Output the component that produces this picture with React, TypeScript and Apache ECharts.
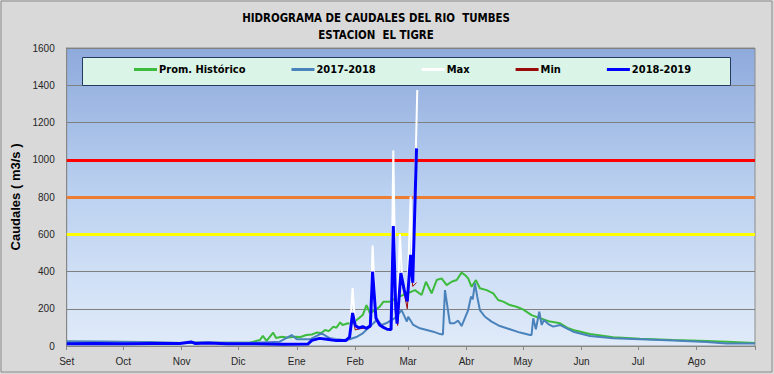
import React, { useEffect, useRef } from "react";
import * as echarts from "echarts";

// X axis: day index from 1 Sep 2018 (0) to 31 Aug 2019 end (365)
const MONTHS = ["Set", "Oct", "Nov", "Dic", "Ene", "Feb", "Mar", "Abr", "May", "Jun", "Jul", "Ago"];
const MONTH_START_DAYS = [0, 30, 61, 91, 122, 153, 181, 212, 242, 273, 303, 334];
const YEAR_END_DAY = 365;

const Y_TICKS = [0, 200, 400, 600, 800, 1000, 1200, 1400, 1600];
const ALERT_LEVELS = [600, 800, 1000];

// [day, m3/s]
const PROM_HISTORICO: [number, number][] = [
  [0, 20], [30, 18], [60, 17], [91, 18], [97, 18], [102.5, 32], [104, 54], [106, 27], [109.5, 72], [111, 43],
  [114, 50], [117.5, 45], [121, 50], [124, 48], [127, 59], [130, 62], [132.5, 72], [135, 70], [137, 86], [139, 80],
  [141.4, 104], [143, 98], [145, 127], [146.3, 113], [149.3, 122], [151, 118], [153.8, 140], [157, 166], [159, 220],
  [160.8, 175], [163, 190], [166, 211], [168, 238], [171.4, 238], [175, 260], [180, 280], [184.7, 300], [188.2, 274],
  [190.5, 345], [193.5, 283], [196.2, 354], [198.8, 363], [201.5, 327], [204.1, 345], [206.8, 354], [209.4, 394],
  [211.2, 381], [212.9, 363], [214.7, 318], [217, 354], [219.1, 310], [222.7, 300], [226.2, 283], [228.8, 247],
  [231.5, 238], [235, 220], [238.5, 211], [242, 197], [246.5, 166], [251, 149], [256.3, 131], [261.6, 122],
  [266, 95], [268.6, 86], [277.5, 64], [289.8, 47], [304, 39], [321.6, 32], [339.3, 27], [349.9, 23], [365, 16],
];

const SERIE_2017_2018: [number, number][] = [
  [0, 25], [20, 24], [40, 22], [60, 20], [80, 18], [100, 17], [113, 23], [119.3, 59], [122, 36], [129, 36],
  [135.2, 68], [139.6, 41], [146.7, 32], [150, 36], [154, 50], [157, 68], [160.8, 104], [164.4, 140], [167, 113],
  [170, 125], [174, 150], [177.6, 193], [180.4, 131], [181.1, 157], [183.8, 113], [187.3, 95], [190.9, 86],
  [194.4, 77], [198, 64], [199.5, 62], [200.6, 300], [203.2, 122], [205.5, 122], [207.6, 136], [209.4, 107],
  [212.9, 193], [214.4, 265], [215.3, 251], [216.5, 337], [217.7, 265], [219.1, 193], [221.8, 157], [225.3, 131],
  [229.7, 107], [235, 90], [240.4, 72], [245.7, 59], [246.5, 59], [247.4, 149], [248.8, 90], [250.6, 184],
  [251.9, 113], [253.1, 140], [255.4, 118], [258, 104], [261.6, 113], [265.1, 95], [268.6, 77], [277.5, 54],
  [289.8, 41], [304, 36], [321.6, 29], [339.3, 21], [350, 14], [365, 14],
];

const SERIE_MAX: [number, number][] = [
  [0, 12], [30, 12], [66, 22], [68, 14], [128, 11], [130, 30], [134, 41], [148, 29], [150, 48], [151.6, 311],
  [153, 110], [155, 97], [161, 108], [162.2, 539], [164, 150], [166, 113], [172, 88], [173.2, 1049], [174.5, 200],
  [175.2, 120], [176.7, 601], [178, 330], [180.6, 240], [182.4, 802], [183.5, 340], [185.9, 1375],
];

const SERIE_MIN: [number, number][] = [
  [0, 11], [30, 11], [66, 20], [68, 13], [128, 10], [130, 28], [134, 38], [148, 27], [150, 45], [151.6, 170],
  [153, 86], [155, 92], [161, 100], [162.2, 380], [164, 140], [166, 108], [172, 84], [173.2, 620], [174.5, 180],
  [175.5, 110], [177.2, 370], [179, 280], [180.6, 200], [182.4, 470], [183.5, 320], [185.5, 340],
];

const SERIE_2018_2019: [number, number][] = [
  [0, 12], [15, 13], [30, 12], [45, 14], [60, 13], [66, 22], [68, 14], [75, 16], [85, 12], [100, 12], [115, 10],
  [128, 11], [130, 30], [134, 41], [138, 36], [143, 29], [148, 29], [150, 48], [151.6, 177], [153, 110], [155, 97],
  [157, 104], [159, 95], [161, 108], [162.2, 399], [164, 150], [166, 113], [168, 100], [170, 90], [172, 88],
  [173.2, 644], [174.5, 200], [175.2, 120], [177.2, 392], [179, 300], [180.6, 240], [182.4, 489], [183.5, 340],
  [185.5, 1061],
];

const NARROW = "'Liberation Sans Narrow', 'Arial Narrow', 'DejaVu Sans Condensed', sans-serif";
const SANS = "'Liberation Sans', Arial, sans-serif";

export default function App() {
  const ref = useRef<HTMLDivElement>(null);

  useEffect(() => {
    if (!ref.current) return;
    const chart = echarts.init(ref.current, null, { renderer: "svg" });

    const lineSeries = (name: string, data: [number, number][], color: string, width: number, z: number) => ({
      name,
      type: "line",
      data,
      showSymbol: false,
      symbol: "none",
      z,
      lineStyle: { color, width },
      itemStyle: { color },
    });

    const prom: any = lineSeries("Prom. Histórico", PROM_HISTORICO, "#3cbb3c", 2, 3);
    prom.markLine = {
      silent: true,
      symbol: "none",
      label: { show: false },
      data: ALERT_LEVELS.map((v, i) => ({
        yAxis: v,
        lineStyle: { color: ["#ffff00", "#ed7d31", "#ff0000"][i], width: 3, type: "solid" },
      })),
    };

    chart.setOption({
      animation: false,
      backgroundColor: "#d9d9d9",
      graphic: [
        {
          type: "rect",
          shape: { x: 1, y: 1, width: 771, height: 371 },
          style: { fill: "none", stroke: "#8a8a8a", lineWidth: 1 },
          z: -1,
          silent: true,
        },
        {
          type: "rect",
          shape: { x: 82.5, y: 57.5, width: 648, height: 28 },
          style: { fill: "#daf5e7", stroke: "#243a5e", lineWidth: 1 },
          z: 5,
          silent: true,
        },
        {
          type: "text",
          x: 376,
          y: 18,
          style: {
            text: "HIDROGRAMA DE CAUDALES DEL RIO  TUMBES",
            font: `bold 11.4px ${NARROW}`,
            fill: "#000",
            align: "center",
            verticalAlign: "middle",
          },
        },
        {
          type: "text",
          x: 376,
          y: 35,
          style: {
            text: "ESTACION  EL TIGRE",
            font: `bold 11.4px ${NARROW}`,
            fill: "#000",
            align: "center",
            verticalAlign: "middle",
          },
        },
      ],
      legend: {
        left: 134,
        top: 64,
        padding: 0,
        itemGap: 46,
        itemWidth: 23,
        itemHeight: 3,
        icon: "rect",
        z: 10,
        textStyle: { fontFamily: NARROW, fontWeight: "bold", fontSize: 11, color: "#000", padding: [0, 0, 0, -3] },
        data: ["Prom. Histórico", "2017-2018", "Max", "Min", "2018-2019"],
      },
      grid: {
        left: 66.7,
        right: 19,
        top: 48,
        bottom: 28,
        show: true,
        borderColor: "#8c8c8c",
        borderWidth: 1,
        backgroundColor: new echarts.graphic.LinearGradient(0, 0, 0, 1, [
          { offset: 0, color: "#8eaadc" },
          { offset: 0.5, color: "#bcd2f1" },
          { offset: 1, color: "#e0ebf9" },
        ]),
      },
      xAxis: {
        type: "value",
        min: 0,
        max: YEAR_END_DAY,
        axisLine: { show: true, lineStyle: { color: "#868686" } },
        axisTick: {
          show: true,
          length: 4,
          lineStyle: { color: "#868686" },
          customValues: [...MONTH_START_DAYS, YEAR_END_DAY],
        },
        axisLabel: {
          customValues: MONTH_START_DAYS,
          formatter: (v: number) => MONTHS[MONTH_START_DAYS.indexOf(Math.round(v))] ?? "",
          fontFamily: SANS,
          fontSize: 10,
          color: "#262626",
          margin: 10,
        },
        splitLine: { show: false },
      },
      yAxis: {
        type: "value",
        min: 0,
        max: 1600,
        interval: 200,
        name: "Caudales ( m3/s )",
        nameLocation: "middle",
        nameGap: 37,
        nameTextStyle: { fontFamily: SANS, fontWeight: "bold", fontSize: 13, color: "#000" },
        axisLine: { show: true, lineStyle: { color: "#868686" } },
        axisTick: { show: false },
        axisLabel: {
          fontFamily: SANS,
          fontSize: 10,
          color: "#262626",
          margin: 12,
          formatter: (v: number) => (Y_TICKS.includes(v) ? String(v) : ""),
        },
        splitLine: { show: true, lineStyle: { color: "#808080", width: 1 } },
      },
      series: [
        prom,
        lineSeries("2017-2018", SERIE_2017_2018, "#4a82bb", 2, 4),
        lineSeries("Max", SERIE_MAX, "#ffffff", 2, 5),
        lineSeries("Min", SERIE_MIN, "#9b0a0a", 1, 6),
        lineSeries("2018-2019", SERIE_2018_2019, "#0000ff", 3, 7),
      ],
    });

    return () => chart.dispose();
  }, []);

  return <div ref={ref} style={{ position: "fixed", left: 0, top: 0, width: 774, height: 374 }} />;
}
